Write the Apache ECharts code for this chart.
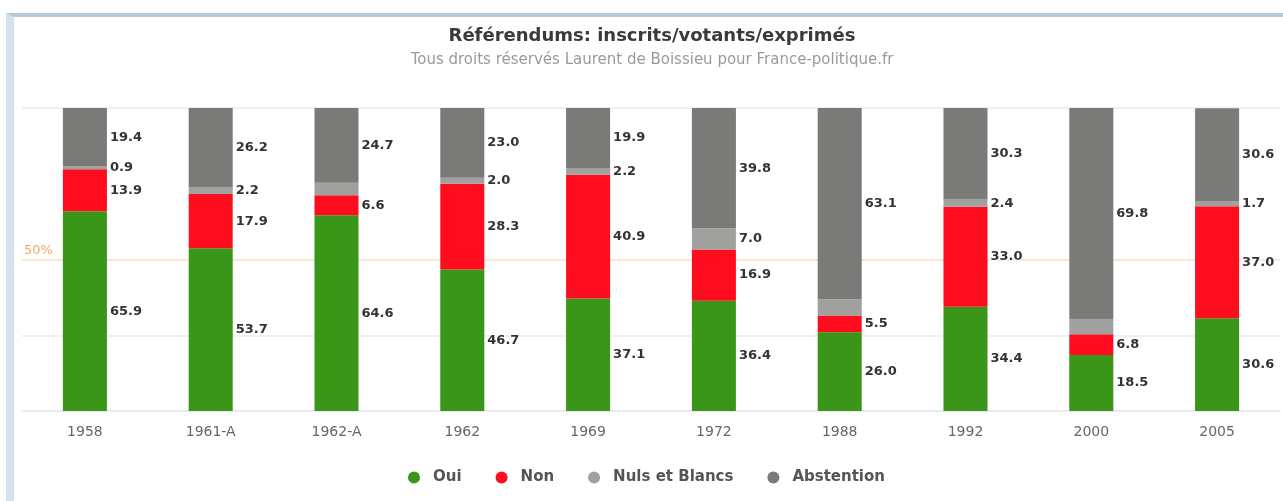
<!DOCTYPE html>
<html>
<head>
<meta charset="utf-8">
<script src="https://cdn.jsdelivr.net/npm/echarts@6/dist/echarts.min.js"></script>
<style>
  html, body { margin: 0; padding: 0; background: #ffffff; }
  #frame { position: absolute; left: 6px; top: 13px; width: 1300px; height: 500px;
           border-top: 4px solid #b6c9db; border-left: 8px solid #d6e1eb; box-sizing: border-box; }
  #chart { position: absolute; left: 0; top: 0; width: 1283px; height: 501px; }
</style>
</head>
<body>
<div id="frame"></div>
<div id="chart"></div>
<script>
// Référendums: share of registered voters (%)
const categories = ['1958', '1961-A', '1962-A', '1962', '1969', '1972', '1988', '1992', '2000', '2005'];
const oui        = [65.9, 53.7, 64.6, 46.7, 37.1, 36.4, 26.0, 34.4, 18.5, 30.6];
const non        = [13.9, 17.9, 6.6, 28.3, 40.9, 16.9, 5.5, 33.0, 6.8, 37.0];
const nulsBlancs = [0.9, 2.2, 4.1, 2.0, 2.2, 7.0, 5.4, 2.4, 4.9, 1.7];
const abstention = [19.4, 26.2, 24.7, 23.0, 19.9, 39.8, 63.1, 30.3, 69.8, 30.6];
const seriesNames = ['Oui', 'Non', 'Nuls et Blancs', 'Abstention'];
const yTicks = [0, 25, 50, 75, 100];
const referenceLine = 50;

const FONT = 'DejaVu Sans, Verdana, sans-serif';
const colors = ['#399619', '#fe0d1e', '#a0a09e', '#7a7b78'];
const chart = echarts.init(document.getElementById('chart'), null, { renderer: 'canvas' });

const labelStyle = {
  show: true,
  position: 'right',
  distance: 3,
  fontSize: 13,
  fontWeight: 'bold',
  color: '#333333',
  fontFamily: FONT,
  lineHeight: 20,
  textBorderColor: '#ffffff',
  textBorderWidth: 2,
  formatter: p => p.value.toFixed(1)
};

function mkSeries(name, data, color) {
  return {
    name: name,
    type: 'bar',
    stack: 'total',
    data: data,
    barWidth: '35%',
    z: 3,
    itemStyle: { color: color },
    label: labelStyle,
    labelLayout: { hideOverlap: true },
    emphasis: { disabled: true }
  };
}

const option = {
  animation: false,
  color: colors,
  textStyle: { fontFamily: FONT },
  title: {
    text: 'Référendums: inscrits/votants/exprimés',
    subtext: 'Tous droits réservés Laurent de Boissieu pour France-politique.fr',
    left: 647,
    textAlign: 'center',
    top: 22,
    itemGap: 8,
    textStyle: { fontSize: 18, fontWeight: 'bold', color: '#3a3a3a', fontFamily: FONT },
    subtextStyle: { fontSize: 15, color: '#9a9a9a', fontFamily: FONT }
  },
  legend: {
    data: seriesNames,
    bottom: 11,
    left: 403,
    icon: 'circle',
    itemWidth: 28,
    itemHeight: 12,
    itemGap: 34,
    textStyle: { fontSize: 15, fontWeight: 'bold', color: '#555555', fontFamily: FONT }
  },
  grid: { left: 22, right: 3, top: 108, bottom: 90, containLabel: false },
  xAxis: {
    type: 'category',
    data: categories,
    axisLine: { show: true, lineStyle: { color: '#e8ecf2', width: 2 } },
    axisTick: { show: false },
    axisLabel: { color: '#666666', fontSize: 14, margin: 14, fontFamily: FONT }
  },
  yAxis: {
    type: 'value',
    min: yTicks[0],
    max: yTicks[yTicks.length - 1],
    interval: 25,
    axisLabel: { show: false },
    axisLine: { show: false },
    axisTick: { show: false },
    splitLine: {
      show: true,
      lineStyle: { color: ['#f0f0f0', '#f0f0f0', 'rgba(0,0,0,0)', 'rgba(0,0,0,0)', '#f0f0f0'], width: 2 }
    }
  },
  series: [
    {
      name: '50%',
      type: 'line',
      data: [],
      z: 1,
      markLine: {
        silent: true,
        symbol: 'none',
        z: 1,
        lineStyle: { color: '#fbe6d2', width: 2, type: 'solid' },
        label: { show: true, position: 'insideStartTop', formatter: '50%', color: '#f0a868', fontSize: 13, fontFamily: FONT, distance: [2, 2] },
        data: [{ yAxis: referenceLine }]
      }
    },
    mkSeries(seriesNames[0], oui, colors[0]),
    mkSeries(seriesNames[1], non, colors[1]),
    mkSeries(seriesNames[2], nulsBlancs, colors[2]),
    mkSeries(seriesNames[3], abstention, colors[3])
  ]
};
chart.setOption(option);
</script>
</body>
</html>
